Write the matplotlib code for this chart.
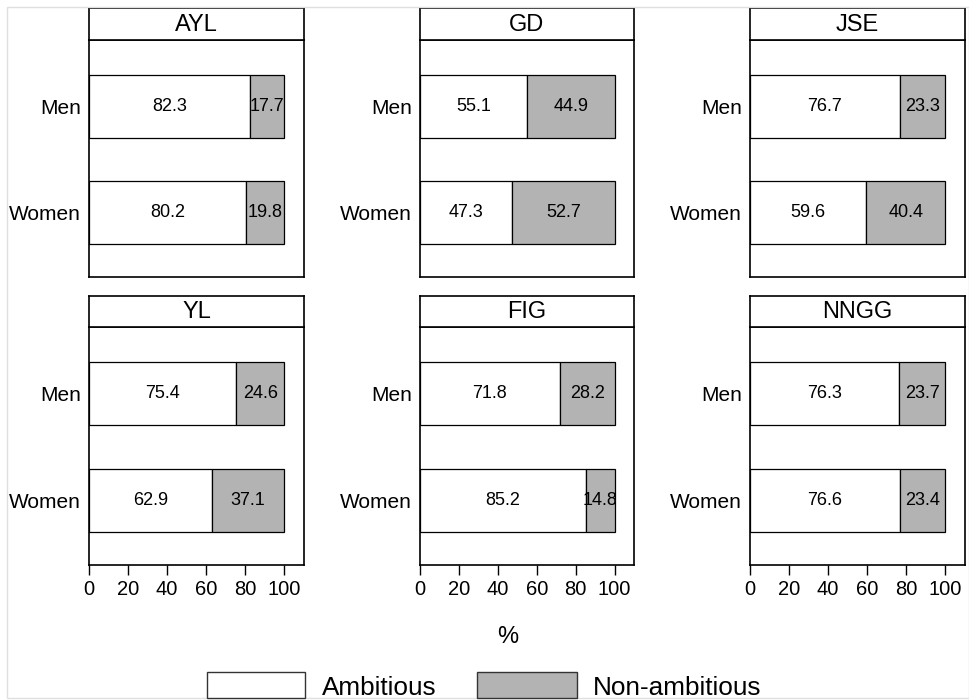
import matplotlib
matplotlib.use("Agg")
import matplotlib.pyplot as plt
from matplotlib.patches import Rectangle

plt.rcParams['font.family'] = ['Liberation Sans', 'DejaVu Sans']

panels = ["AYL", "GD", "JSE", "YL", "FIG", "NNGG"]
groups = ["Men", "Women"]
ambitious = {
    "AYL": [82.3, 80.2],
    "GD": [55.1, 47.3],
    "JSE": [76.7, 59.6],
    "YL": [75.4, 62.9],
    "FIG": [71.8, 85.2],
    "NNGG": [76.3, 76.6],
}
non_ambitious = {
    "AYL": [17.7, 19.8],
    "GD": [44.9, 52.7],
    "JSE": [23.3, 40.4],
    "YL": [24.6, 37.1],
    "FIG": [28.2, 14.8],
    "NNGG": [23.7, 23.4],
}
xticks = [0, 20, 40, 60, 80, 100]
legend_labels = ["Ambitious", "Non-ambitious"]

W, H = 970, 700
fig = plt.figure(figsize=(W / 100, H / 100), dpi=100)
fig.patch.set_facecolor("white")

GRAY = "#b3b3b3"

# outer faint frame
fig.add_artist(Rectangle((7 / W, 1 - 698 / H), (969 - 7) / W, (698 - 7) / H,
                         transform=fig.transFigure, fill=False,
                         edgecolor="#e0e0e0", linewidth=1.0))

cols = [(89, 304), (420, 634), (750, 965)]
rows = [(8, 40, 277), (296, 327, 565)]


def fx(px):
    return px / W


def fy(py):
    return 1 - py / H


for i, name in enumerate(panels):
    r, c = divmod(i, 3)
    x0, x1 = cols[c]
    st, pt, pb = rows[r]
    ax = fig.add_axes([fx(x0), fy(pb), fx(x1) - fx(x0), fy(pt) - fy(pb)])
    sax = fig.add_axes([fx(x0), fy(pt), fx(x1) - fx(x0), fy(st) - fy(pt)])
    sax.set_xticks([])
    sax.set_yticks([])
    for sp in sax.spines.values():
        sp.set_linewidth(1.2)
    sax.text(0.5, 0.47, name, ha="center", va="center", fontsize=17,
             transform=sax.transAxes)

    ypos = [1, 0]
    a = ambitious[name]
    n = non_ambitious[name]
    ax.barh(ypos, a, height=0.59, color="white", edgecolor="black",
            linewidth=0.9)
    ax.barh(ypos, n, left=a, height=0.59, color=GRAY, edgecolor="black",
            linewidth=0.9)
    for y, av, nv in zip(ypos, a, n):
        ax.text(av / 2, y, f"{av:.1f}", ha="center", va="center", fontsize=13)
        ax.text(av + nv / 2, y, f"{nv:.1f}", ha="center", va="center",
                fontsize=13)
    ax.set_xlim(0, 110)
    ax.set_ylim(-0.6, 1.62)
    ax.set_yticks(ypos)
    ax.set_yticklabels(groups, fontsize=15)
    ax.tick_params(axis="y", length=0, pad=6)
    ax.set_xticks(xticks)
    if r == 1:
        ax.set_xticklabels([str(t) for t in xticks], fontsize=14.5)
        ax.tick_params(axis="x", length=7, width=1, pad=4, direction="out")
    else:
        ax.tick_params(axis="x", length=0, labelbottom=False)
    for sp in ax.spines.values():
        sp.set_linewidth(1.2)

fig.text(fx(508), fy(637), "%", ha="center", va="center", fontsize=17)

# legend
fig.add_artist(Rectangle((fx(207), fy(698)), fx(305) - fx(207), fy(672) - fy(698),
                         transform=fig.transFigure, facecolor="white",
                         edgecolor="#333333", linewidth=1.0))
fig.add_artist(Rectangle((fx(477), fy(698)), fx(577) - fx(477), fy(672) - fy(698),
                         transform=fig.transFigure, facecolor=GRAY,
                         edgecolor="#333333", linewidth=1.0))
fig.text(fx(322), fy(688), legend_labels[0], ha="left", va="center", fontsize=18.8)
fig.text(fx(593), fy(688), legend_labels[1], ha="left", va="center", fontsize=18.8)

fig.savefig("out.png", dpi=100, facecolor="white")
